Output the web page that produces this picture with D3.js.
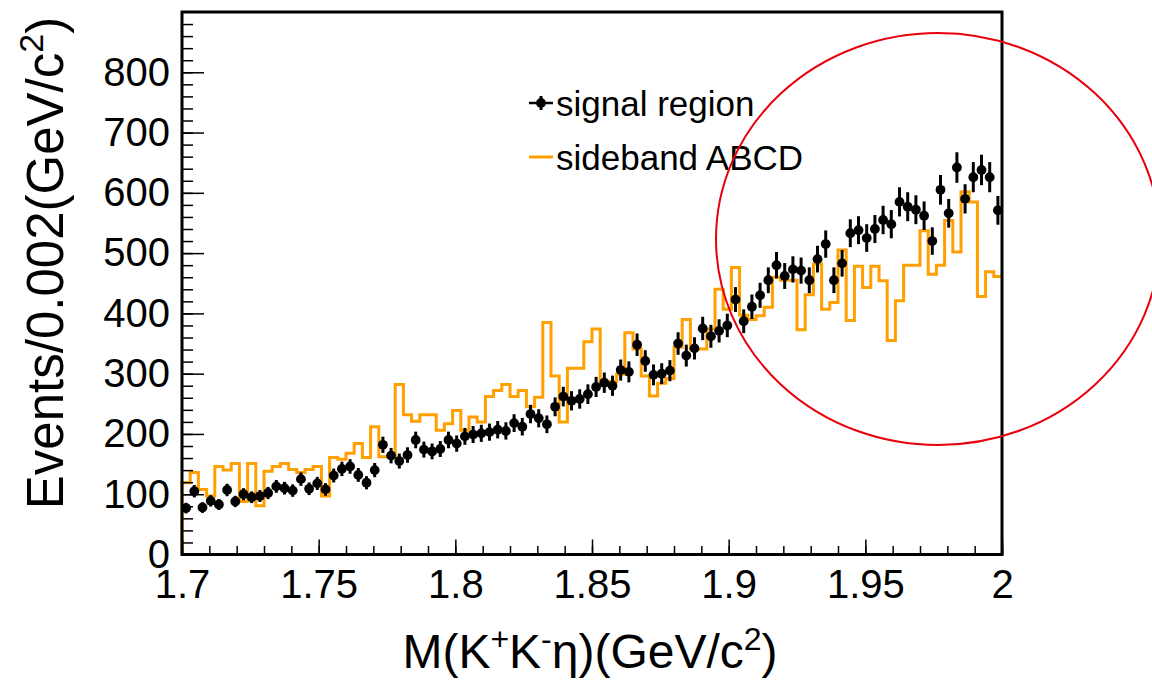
<!DOCTYPE html>
<html>
<head>
<meta charset="utf-8">
<script src="https://cdn.jsdelivr.net/npm/d3@7"></script>
<style>
  html, body { margin: 0; padding: 0; background: #fff; }
  svg { display: block; }
  text { font-family: "Liberation Sans", Arial, Helvetica, sans-serif; fill: #000; }
</style>
</head>
<body>
<svg id="chart" width="1152" height="681"></svg>
<script>
// ---- data (100 bins of width 0.003 from 1.7 to 2.0) ----
const xMin = 1.7;
const xMax = 2.0;
const binWidth = 0.003;

const signalCounts = [
  77, 105, 78, 89, 83, 107, 88, 100, 95, 97,
  102, 113, 110, 106, 125, 109, 118, 108, 131, 142,
  146, 132, 119, 140, 182, 164, 155, 165, 190, 174,
  171, 175, 190, 184, 196, 199, 201, 203, 207, 205,
  218, 212, 233, 226, 216, 245, 262, 255, 258, 266,
  278, 285, 280, 306, 303, 348, 321, 298, 300, 305,
  350, 330, 342, 375, 362, 371, 380, 423, 387, 411,
  430, 455, 480, 462, 473, 471, 455, 490, 515, 455,
  483, 533, 538, 525, 540, 555, 548, 585, 577, 572,
  562, 520, 605, 566, 642, 590, 626, 638, 626, 571
];

const sidebandCounts = [
  119, 136, 108, 97, 146, 140, 151, 88, 151, 81,
  138, 146, 151, 141, 136, 141, 146, 97, 161, 158,
  168, 184, 161, 212, 162, 162, 282, 232, 221, 232,
  232, 206, 217, 239, 206, 228, 220, 262, 272, 282,
  262, 272, 245, 261, 385, 296, 220, 309, 309, 353,
  374, 282, 287, 299, 368, 341, 296, 263, 284, 292,
  344, 390, 341, 341, 374, 440, 407, 476, 397, 390,
  396, 410, 460, 455, 455, 373, 431, 482, 407, 418,
  505, 388, 478, 443, 478, 454, 355, 421, 480, 480,
  537, 465, 480, 554, 502, 602, 585, 428, 469, 461
];

const xTickValues = [1.7, 1.75, 1.8, 1.85, 1.9, 1.95, 2.0];
const xTickLabels = ["1.7", "1.75", "1.8", "1.85", "1.9", "1.95", "2"];
const yTickValues = [0, 100, 200, 300, 400, 500, 600, 700, 800];
const yMax = 900;

const legendLabels = ["signal region", "sideband ABCD"];

// ---- layout ----
const svg = d3.select("#chart");
const L = 182, R = 1002, T = 12, B = 554.5;
const x = d3.scaleLinear().domain([xMin, xMax]).range([L, R]);
const y = d3.scaleLinear().domain([0, yMax]).range([B, T]);
const orange = "#ffa000";

// ---- sideband histogram (step outline) ----
const histPts = [[xMin, 0]];
sidebandCounts.forEach((v, i) => {
  const lo = xMin + i * binWidth, hi = xMin + (i + 1) * binWidth;
  histPts.push([lo, v]);
  histPts.push([hi, v]);
});
svg.append("path")
  .attr("d", d3.line().x(d => x(d[0])).y(d => y(d[1]))(histPts))
  .attr("fill", "none")
  .attr("stroke", orange)
  .attr("stroke-width", 3)
  .attr("stroke-linejoin", "miter");

// ---- signal points with Poisson error bars ----
const pts = signalCounts.map((v, i) => ({ c: xMin + (i + 0.5) * binWidth, v: v, e: Math.sqrt(v) }));
const g = svg.append("g");
g.selectAll("line.err").data(pts).join("line")
  .attr("class", "err")
  .attr("x1", d => x(d.c)).attr("x2", d => x(d.c))
  .attr("y1", d => y(d.v - d.e)).attr("y2", d => y(d.v + d.e))
  .attr("stroke", "#000").attr("stroke-width", 3);
g.selectAll("circle").data(pts).join("circle")
  .attr("cx", d => x(d.c)).attr("cy", d => y(d.v))
  .attr("r", 4.9).attr("fill", "#000");

// ---- axes ----
const fs = 40;
const xMinor = d3.range(0, 31).map(i => xMin + i * 0.01);
const yMinor = d3.range(0, 45).map(i => i * 20);

const xAxisMinor = svg.append("g").attr("transform", `translate(0,${B})`)
  .call(d3.axisBottom(x).tickValues(xMinor).tickSize(-8.5).tickFormat(""));
const xAxis = svg.append("g").attr("transform", `translate(0,${B})`)
  .call(d3.axisBottom(x).tickValues(xTickValues).tickSize(-15).tickPadding(15)
    .tickFormat((d, i) => xTickLabels[i]));
const yAxisMinor = svg.append("g").attr("transform", `translate(${L},0)`)
  .call(d3.axisLeft(y).tickValues(yMinor).tickSize(-11).tickFormat(""));
const yAxis = svg.append("g").attr("transform", `translate(${L},0)`)
  .call(d3.axisLeft(y).tickValues(yTickValues).tickSize(-22).tickPadding(12)
    .tickFormat(d3.format("d")));

[xAxisMinor, xAxis, yAxisMinor, yAxis].forEach(a => {
  a.select(".domain").remove();
  a.selectAll(".tick line").attr("stroke", "#000").attr("stroke-width", 1.5);
  a.selectAll("text").style("font-size", fs + "px")
    .style("font-family", "'Liberation Sans', Arial, Helvetica, sans-serif").attr("fill", "#000");
});

// ---- frame ----
svg.append("rect")
  .attr("x", L).attr("y", T).attr("width", R - L).attr("height", B - T)
  .attr("fill", "none").attr("stroke", "#000").attr("stroke-width", 3);

// ---- axis titles ----
const xt = svg.append("text")
  .attr("x", 590).attr("y", 668)
  .attr("text-anchor", "middle")
  .style("font-size", "48px");
xt.append("tspan").text("M(K");
xt.append("tspan").attr("dy", -18).style("font-size", "32px").text("+");
xt.append("tspan").attr("dy", 18).text("K");
xt.append("tspan").attr("dy", -18).style("font-size", "32px").text("-");
xt.append("tspan").attr("dy", 18).text("η)(GeV/c");
xt.append("tspan").attr("dy", -18).style("font-size", "32px").text("2");
xt.append("tspan").attr("dy", 18).text(")");

const yt = svg.append("text")
  .attr("transform", "translate(63,263) rotate(-90)")
  .attr("text-anchor", "middle")
  .style("font-size", "51px");
yt.append("tspan").text("Events/0.002(GeV/c");
yt.append("tspan").attr("dy", -20).style("font-size", "34px").text("2");
yt.append("tspan").attr("dy", 20).text(")");

// ---- legend ----
const lg = svg.append("g");
const lfs = 35;
// signal entry
lg.append("line").attr("x1", 529).attr("x2", 553).attr("y1", 103).attr("y2", 103)
  .attr("stroke", "#000").attr("stroke-width", 2.5);
lg.append("line").attr("x1", 541).attr("x2", 541).attr("y1", 96).attr("y2", 110)
  .attr("stroke", "#000").attr("stroke-width", 3);
lg.append("circle").attr("cx", 541).attr("cy", 103).attr("r", 4.9).attr("fill", "#000");
lg.append("text").attr("x", 556).attr("y", 115.5).style("font-size", lfs + "px").text(legendLabels[0]);
// sideband entry
lg.append("line").attr("x1", 529).attr("x2", 553).attr("y1", 157).attr("y2", 157)
  .attr("stroke", orange).attr("stroke-width", 3);
lg.append("text").attr("x", 556).attr("y", 169.5).style("font-size", lfs + "px").text(legendLabels[1]);

// ---- red highlight ellipse ----
svg.append("ellipse")
  .attr("cx", 938).attr("cy", 239).attr("rx", 222).attr("ry", 206)
  .attr("fill", "none").attr("stroke", "#e8000b").attr("stroke-width", 2);
</script>
</body>
</html>
